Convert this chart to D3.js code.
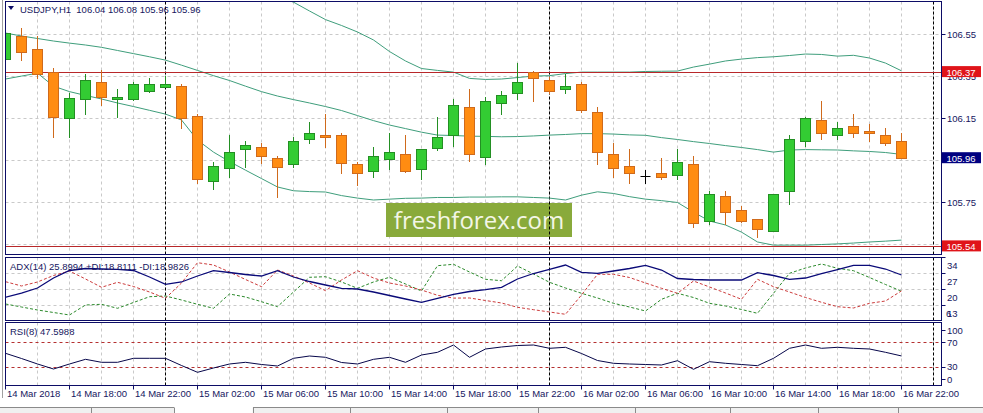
<!DOCTYPE html>
<html><head><meta charset="utf-8">
<script src="https://cdn.jsdelivr.net/npm/d3@7"></script>
<style>
body{margin:0;background:#fff;overflow:hidden}
svg{display:block}
text{font-family:"Liberation Sans",Arial,sans-serif;}
</style>
</head><body>
<svg id="c" width="983" height="413"></svg>
<script>
// ---------------- DATA ----------------
const symbol = "USDJPY,H1";
const headerOHLC = ["106.04", "106.08", "105.96", "105.96"];
const tickIdx = [0, 4, 8, 12, 16, 20, 24, 28, 32, 36, 40, 44, 48, 52, 56];
const tickLabels = ["14 Mar 2018", "14 Mar 18:00", "14 Mar 22:00", "15 Mar 02:00", "15 Mar 06:00",
  "15 Mar 10:00", "15 Mar 14:00", "15 Mar 18:00", "15 Mar 22:00", "16 Mar 02:00", "16 Mar 06:00",
  "16 Mar 10:00", "16 Mar 14:00", "16 Mar 18:00", "16 Mar 22:00"];
const daySeparators = [10, 34, 58];

const open = [106.431, 106.542, 106.479, 106.370, 106.150, 106.242, 106.321, 106.240, 106.240, 106.279,
  106.300, 106.302, 106.161, 105.850, 105.912, 106.002, 106.012, 105.960, 105.931, 106.051,
  106.070, 106.070, 105.932, 105.900, 105.958, 105.980, 105.910, 106.010, 106.069, 106.202,
  105.967, 106.221, 106.269, 106.369, 106.331, 106.288, 106.312, 106.179, 105.979, 105.923,
  105.873, 105.888, 105.879, 105.931, 105.660, 105.779, 105.712, 105.669, 105.612, 105.802,
  106.040, 106.140, 106.069, 106.112, 106.088, 106.069, 106.040];
const high = [106.566, 106.579, 106.542, 106.388, 106.269, 106.361, 106.380, 106.288, 106.323, 106.342,
  106.351, 106.312, 106.169, 105.943, 106.070, 106.042, 106.031, 105.970, 106.062, 106.134,
  106.170, 106.079, 105.943, 106.015, 106.079, 106.070, 106.006, 106.155, 106.243, 106.288,
  106.250, 106.280, 106.415, 106.375, 106.345, 106.361, 106.323, 106.202, 106.031, 106.002,
  105.904, 105.960, 106.002, 105.970, 105.802, 105.802, 105.731, 105.670, 105.790, 106.070,
  106.156, 106.234, 106.132, 106.170, 106.123, 106.102, 106.080];
const low = [106.423, 106.428, 106.342, 106.060, 106.060, 106.169, 106.212, 106.158, 106.237, 106.275,
  106.298, 106.102, 105.843, 105.812, 105.869, 105.920, 105.939, 105.777, 105.920, 106.031,
  106.012, 105.888, 105.832, 105.869, 105.910, 105.894, 105.860, 105.999, 106.020, 105.948,
  105.931, 106.169, 106.240, 106.231, 106.269, 106.269, 106.179, 105.931, 105.869, 105.840,
  105.842, 105.860, 105.860, 105.631, 105.648, 105.648, 105.658, 105.586, 105.612, 105.740,
  106.020, 106.050, 106.050, 106.060, 106.040, 106.021, 105.960];
const close = [106.555, 106.467, 106.361, 106.158, 106.248, 106.331, 106.250, 106.250, 106.312, 106.312,
  106.312, 106.150, 105.860, 105.923, 105.988, 106.021, 105.970, 105.920, 106.040, 106.079,
  106.060, 105.939, 105.888, 105.970, 105.990, 105.900, 106.002, 106.060, 106.212, 105.979,
  106.231, 106.260, 106.321, 106.340, 106.279, 106.302, 106.188, 105.988, 105.912, 105.888,
  105.873, 105.869, 105.940, 105.650, 105.790, 105.702, 105.660, 105.621, 105.790, 106.050,
  106.153, 106.079, 106.104, 106.079, 106.079, 106.031, 105.960];

const bbUpper = [106.775, 106.742, 106.727, 106.751, 106.761, 106.756, 106.751, 106.746, 106.742, 106.737,
  106.742, 106.761, 106.770, 106.765, 106.761, 106.751, 106.742, 106.727, 106.703, 106.661,
  106.620, 106.592, 106.561, 106.523, 106.468, 106.423, 106.387, 106.378, 106.370, 106.340,
  106.335, 106.337, 106.344, 106.351, 106.353, 106.363, 106.370, 106.370, 106.370, 106.370,
  106.373, 106.374, 106.375, 106.394, 106.408, 106.423, 106.432, 106.439, 106.443, 106.449,
  106.456, 106.454, 106.446, 106.450, 106.437, 106.413, 106.376];
const bbMid = [106.556, 106.542, 106.530, 106.518, 106.508, 106.499, 106.488, 106.473, 106.458, 106.443,
  106.427, 106.403, 106.378, 106.353, 106.330, 106.303, 106.277, 106.256, 106.239, 106.223,
  106.206, 106.187, 106.163, 106.139, 106.118, 106.101, 106.084, 106.070, 106.068, 106.065,
  106.064, 106.062, 106.063, 106.066, 106.070, 106.073, 106.077, 106.077, 106.075, 106.071,
  106.069, 106.058, 106.049, 106.039, 106.030, 106.020, 106.011, 106.001, 105.989, 105.999,
  106.001, 106.000, 105.999, 105.995, 105.992, 105.987, 105.978];
const bbLower = [106.337, 106.351, 106.365, 106.303, 106.277, 106.259, 106.242, 106.223, 106.206, 106.188,
  106.170, 106.142, 106.046, 105.989, 105.944, 105.903, 105.863, 105.823, 105.805, 105.801,
  105.799, 105.782, 105.770, 105.761, 105.765, 105.769, 105.770, 105.773, 105.773, 105.775,
  105.775, 105.776, 105.776, 105.773, 105.770, 105.761, 105.784, 105.800, 105.792, 105.777,
  105.765, 105.758, 105.749, 105.703, 105.661, 105.642, 105.608, 105.561, 105.546, 105.546,
  105.546, 105.549, 105.552, 105.556, 105.561, 105.565, 105.570];

const adx = [16.15, 18.03, 20.22, 24.59, 27.88, 28.75, 28.53, 28.40, 27.88, 25.03,
  21.84, 22.85, 25.47, 27.79, 27.00, 26.13, 25.47, 27.79, 25.03, 23.06,
  21.53, 20.09, 19.78, 18.47, 16.94, 15.41, 13.97, 15.71, 17.46, 18.69,
  19.48, 20.53, 24.16, 26.56, 28.40, 30.28, 27.09, 26.65, 27.66, 28.75,
  30.15, 28.09, 24.38, 23.94, 23.72, 23.72, 23.72, 26.91, 25.69, 24.03,
  24.59, 26.56, 28.31, 30.15, 30.15, 28.53, 25.90];
const plusDI = [13.22, 11.91, 10.60, 9.50, 8.41, 12.78, 13.09, 11.34, 13.88, 16.41,
  16.72, 14.97, 13.09, 11.34, 17.60, 16.28, 14.23, 12.04, 18.47, 24.90,
  25.16, 22.85, 20.09, 22.85, 24.90, 21.97, 18.91, 29.98, 30.59, 27.22,
  24.03, 23.41, 29.84, 26.34, 22.71, 20.22, 17.90, 15.85, 13.53, 11.91,
  10.16, 15.28, 17.90, 16.06, 13.53, 12.35, 10.82, 9.15, 17.90, 26.65,
  28.97, 30.72, 28.84, 27.79, 24.81, 21.75, 18.81];
const minusDI = [22.98, 21.10, 22.85, 25.69, 27.66, 24.16, 20.53, 22.71, 20.88, 18.47,
  15.71, 22.41, 31.29, 30.28, 27.22, 23.94, 20.79, 28.09, 25.47, 22.41,
  19.04, 23.72, 27.79, 24.59, 22.41, 21.10, 19.35, 17.03, 15.80, 15.85,
  14.75, 13.66, 11.78, 10.73, 9.72, 8.72, 17.16, 26.21, 26.21, 24.81,
  22.41, 20.09, 17.90, 23.28, 20.66, 18.03, 15.28, 24.03, 20.79, 18.47,
  16.06, 13.97, 12.04, 11.47, 13.53, 14.53, 18.98];
const rsi = [51.97, 43.44, 34.43, 26.23, 34.43, 42.13, 37.21, 37.21, 43.77, 43.77,
  43.77, 31.97, 20.82, 27.87, 34.43, 37.21, 33.61, 31.15, 43.77, 47.54,
  45.41, 36.89, 34.43, 42.13, 45.41, 37.21, 49.18, 53.61, 65.57, 45.41,
  59.02, 62.30, 64.75, 65.57, 60.16, 61.80, 51.64, 40.16, 35.57, 34.43,
  33.61, 32.79, 39.84, 25.74, 38.20, 35.57, 33.61, 31.64, 43.77, 60.16,
  65.57, 60.16, 61.80, 60.16, 59.02, 53.61, 47.60];

const priceTicks = [106.55, 106.35, 106.15, 105.95, 105.75, 105.55];
const priceLabelTicks = [106.55, 106.35, 106.15, 105.75];   // 105.95 / 105.55 are fully hidden by the boxes
const hLines = [106.37, 105.54];
const lastPrice = 105.96;
const adxTicks = [34, 27, 20, 13];
const adxGrid = [27, 20, 13];
const adxMinLabel = "6";
const rsiTicks = [100, 70, 30, 0];
const rsiLevels = [70, 30];
const adxTitle = "ADX(14) 25.8994 +DI:18.8111 -DI:18.9826";
const rsiTitle = "RSI(8) 47.5988";
const tabSeps = [91, 174, 253, 350, 447, 538, 635, 730, 818, 898];

// ---------------- LAYOUT ----------------
const svg = d3.select("#c");
const X0 = 5.5, X1 = 941.5;
const P = {t: 1.5, b: 254.5}, A = {t: 257.5, b: 320.5}, Rp = {t: 322.5, b: 385.5};
const NAVY = "#0c0c66", TXT = "#161660";
const n = close.length;
const x = d3.scaleLinear().domain([0, n - 1]).range([5.5, 901.5]);
const y = d3.scaleLinear().domain([105.55, 106.55]).range([244.3, 34.3]);
const ya = d3.scaleLinear().domain([6, 34]).range([320.5, 256.5]);
const yr = d3.scaleLinear().domain([0, 100]).range([385, 324]);
const px = v => Math.round(v) + 0.5;

svg.append("rect").attr("width", 983).attr("height", 413).attr("fill", "#fff");

const defs = svg.append("defs");
function clip(id, p) {
  defs.append("clipPath").attr("id", id).append("rect")
    .attr("x", X0 + 0.5).attr("y", p.t + 0.5).attr("width", X1 - X0 - 1).attr("height", p.b - p.t - 1);
}
clip("cm", P); clip("ca", A); clip("cr", Rp);

const gM = svg.append("g").attr("clip-path", "url(#cm)");
const gA = svg.append("g").attr("clip-path", "url(#ca)");
const gR = svg.append("g").attr("clip-path", "url(#cr)");

// grid verticals
const gridIdx = d3.range(2, 60, 2).filter(i => x(i) < X1);
[[gM, P], [gA, A], [gR, Rp]].forEach(([g, p]) => {
  g.selectAll(null).data(gridIdx).join("line")
    .attr("x1", i => x(i)).attr("x2", i => x(i)).attr("y1", p.t).attr("y2", p.b)
    .attr("stroke", "#c9c9c9").attr("stroke-dasharray", "3,3");
});
gM.selectAll(null).data(priceTicks).join("line")
  .attr("x1", X0).attr("x2", X1).attr("y1", d => px(y(d))).attr("y2", d => px(y(d)))
  .attr("stroke", "#c9c9c9").attr("stroke-dasharray", "3,3");
gA.selectAll(null).data(adxGrid).join("line")
  .attr("x1", X0).attr("x2", X1).attr("y1", d => px(ya(d))).attr("y2", d => px(ya(d)))
  .attr("stroke", "#c9c9c9").attr("stroke-dasharray", "3,3");

// watermark
gM.append("rect").attr("x", 386).attr("y", 203).attr("width", 186).attr("height", 34).attr("fill", "#89aa3b");
gM.append("text").attr("x", 479).attr("y", 228.5).attr("text-anchor", "middle")
  .style("font-family", "'Open Sans', sans-serif").style("font-size", "24px")
  .attr("fill", "#f3f6e6").text("freshforex.com");

// day separators
[[gM, P], [gA, A], [gR, Rp]].forEach(([g, p]) => {
  g.selectAll(null).data(daySeparators).join("line")
    .attr("x1", i => x(i)).attr("x2", i => x(i)).attr("y1", p.t).attr("y2", p.b)
    .attr("stroke", "#000").attr("stroke-dasharray", "3,2");
});

// Bollinger bands
const bbLine = arr => d3.line().x((d, i) => x(i)).y(d => y(d))(arr);
[bbUpper, bbMid, bbLower].forEach(arr => {
  gM.append("path").attr("d", bbLine(arr)).attr("fill", "none")
    .attr("stroke", "#3f9e7c").attr("stroke-width", 1);
});

// horizontal red lines
gM.selectAll(null).data(hLines).join("line")
  .attr("x1", X0).attr("x2", X1).attr("y1", d => px(y(d))).attr("y2", d => px(y(d)))
  .attr("stroke", "#b8282a").attr("stroke-width", 1);

// candles
const bull = {fill: "#33cc33", stroke: "#238f23"}, bear = {fill: "#ff8c12", stroke: "#cf6a1c"}, doji = {fill: "#000", stroke: "#000"};
d3.range(n).forEach(i => {
  const o = open[i], c = close[i];
  const col = c > o ? bull : (c < o ? bear : doji);
  const cx = x(i);
  gM.append("line").attr("x1", cx).attr("x2", cx)
    .attr("y1", Math.round(y(high[i]))).attr("y2", Math.round(y(low[i])) + 1)
    .attr("stroke", col.stroke);
  const yt = Math.round(y(Math.max(o, c))) + 0.5, yb = Math.round(y(Math.min(o, c))) + 0.5;
  if (yb - yt < 1) {
    gM.append("line").attr("x1", cx - 5).attr("x2", cx + 5).attr("y1", yt).attr("y2", yt).attr("stroke", col.stroke);
  } else {
    gM.append("rect").attr("x", cx - 5).attr("y", yt).attr("width", 10).attr("height", yb - yt)
      .attr("fill", col.fill).attr("stroke", col.stroke);
  }
});

// ADX panel
const la = d3.line().x((d, i) => x(i)).y(d => ya(d));
gA.append("path").attr("d", la(plusDI)).attr("fill", "none").attr("stroke", "#2c8a2c").attr("stroke-dasharray", "3,2");
gA.append("path").attr("d", la(minusDI)).attr("fill", "none").attr("stroke", "#cc3c3c").attr("stroke-dasharray", "3,2");
gA.append("path").attr("d", la(adx)).attr("fill", "none").attr("stroke", "#0a0a78").attr("stroke-width", 1.3);

// RSI panel
gR.selectAll(null).data(rsiLevels).join("line")
  .attr("x1", X0).attr("x2", X1).attr("y1", d => px(yr(d))).attr("y2", d => px(yr(d)))
  .attr("stroke", "#b53030").attr("stroke-dasharray", "3,3");
const lr = d3.line().x((d, i) => x(i)).y(d => yr(d));
gR.append("path").attr("d", lr(rsi)).attr("fill", "none").attr("stroke", "#06064a").attr("stroke-width", 1);

// frames
const fr = svg.append("g").attr("fill", "none").attr("stroke", NAVY);
[P, A, Rp].forEach(p => fr.append("rect").attr("x", X0).attr("y", p.t).attr("width", X1 - X0).attr("height", p.b - p.t));
svg.append("line").attr("x1", 2.5).attr("x2", 2.5).attr("y1", 0).attr("y2", 398).attr("stroke", "#a0a0a0");

// header texts
svg.append("path").attr("d", "M8,6 L14,6 L11,10 Z").attr("fill", NAVY);
svg.append("text").attr("x", 20).attr("y", 12.5).attr("fill", TXT).style("font-size", "9.5px")
  .attr("xml:space", "preserve").text(symbol + "  " + headerOHLC.join(" "));
svg.append("text").attr("x", 10).attr("y", 269.5).attr("fill", TXT).style("font-size", "9.5px").text(adxTitle);
svg.append("text").attr("x", 10).attr("y", 335).attr("fill", TXT).style("font-size", "9.5px").text(rsiTitle);

// right axis main
const ax = svg.append("g").style("font-size", "9.5px").attr("fill", TXT);
priceTicks.forEach(v => {
  const yy = px(y(v));
  ax.append("line").attr("x1", X1).attr("x2", X1 + 4).attr("y1", yy).attr("y2", yy).attr("stroke", NAVY);
});
priceLabelTicks.forEach(v => {
  ax.append("text").attr("x", 947).attr("y", px(y(v)) + 3.5).text(v.toFixed(2));
});
function priceBox(v, fill) {
  const yy = y(v);
  ax.append("rect").attr("x", 942).attr("y", yy - 6).attr("width", 39).attr("height", 11).attr("fill", fill);
  ax.append("text").attr("x", 946.5).attr("y", yy + 3.5).attr("fill", "#fff").text(v.toFixed(2));
}
hLines.forEach(v => priceBox(v, "#e0141a"));
priceBox(lastPrice, "#000080");

// ADX axis (labels drawn just below their tick)
adxTicks.forEach(v => {
  const yy = px(ya(v));
  ax.append("line").attr("x1", X1).attr("x2", X1 + 4).attr("y1", yy).attr("y2", yy).attr("stroke", NAVY);
  ax.append("text").attr("x", 947).attr("y", yy + 11.5).text(v);
});
ax.append("text").attr("x", 946).attr("y", px(ya(13)) + 11.5).text(adxMinLabel);

// RSI axis
rsiTicks.forEach(v => {
  const yy = yr(v);
  const ly = v === 100 ? yy + 6 : (v === 0 ? yy - 6 : yy);
  ax.append("line").attr("x1", X1).attr("x2", X1 + 4).attr("y1", px(ly)).attr("y2", px(ly)).attr("stroke", NAVY);
  ax.append("text").attr("x", 947).attr("y", ly + 3.5).text(v);
});

// time axis
const tx = svg.append("g").style("font-size", "9.5px").attr("fill", TXT);
tickIdx.forEach((i, k) => {
  const xx = x(i);
  tx.append("line").attr("x1", xx).attr("x2", xx).attr("y1", Rp.b).attr("y2", Rp.b + 4).attr("stroke", NAVY);
  tx.append("text").attr("x", xx + 1.5).attr("y", 397).text(tickLabels[k]);
});

// bottom tab strip
const tb = svg.append("g");
tb.append("rect").attr("x", 0).attr("y", 407.5).attr("width", 983).attr("height", 6).attr("fill", "#f0f0f0");
tb.append("line").attr("x1", 0).attr("x2", 174).attr("y1", 407.5).attr("y2", 407.5).attr("stroke", "#8a8a8a");
tb.append("line").attr("x1", 253).attr("x2", 983).attr("y1", 407.5).attr("y2", 407.5).attr("stroke", "#8a8a8a");
tb.append("rect").attr("x", 174.5).attr("y", 405).attr("width", 78).attr("height", 8).attr("fill", "#fff");
tb.selectAll(null).data(tabSeps).join("line")
  .attr("x1", d => d + 0.5).attr("x2", d => d + 0.5).attr("y1", 407.5).attr("y2", 413).attr("stroke", "#8a8a8a");
</script>
</body></html>
